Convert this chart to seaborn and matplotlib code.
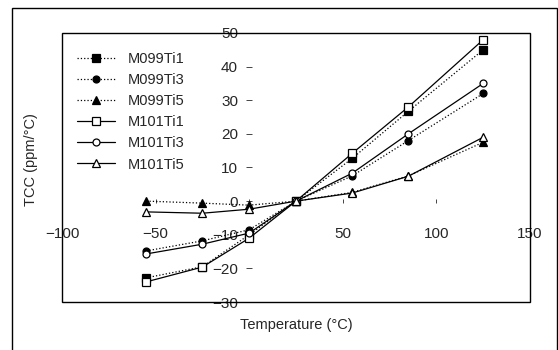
import pandas as pd
import seaborn as sns
import numpy as np
import matplotlib.pyplot as plt
from matplotlib.patches import Rectangle

# temperatures (deg C) and TCC readings (ppm/deg C)
temp = [-55, -25, 0, 25, 55, 85, 125]
m099ti1 = [-22.8, -19.5, -10.0, 0, 12.7, 26.7, 45.0]
m099ti3 = [-14.8, -11.8, -8.5, 0, 7.5, 18.0, 32.0]
m099ti5 = [0.0, -0.6, -1.2, 0, 2.6, 7.5, 17.5]
m101ti1 = [-24.0, -19.6, -11.0, 0, 14.2, 28.0, 48.0]
m101ti3 = [-15.7, -12.8, -9.5, 0, 8.3, 20.0, 35.0]
m101ti5 = [-3.2, -3.6, -2.4, 0, 2.4, 7.4, 19.0]

names = ['M099Ti1', 'M099Ti3', 'M099Ti5', 'M101Ti1', 'M101Ti3', 'M101Ti5']
values = [m099ti1, m099ti3, m099ti5, m101ti1, m101ti3, m101ti5]
markers = ['s', 'o', '^', 's', 'o', '^']
filled = [True, True, True, False, False, False]

sns.set_style('white')
plt.rcParams['font.family'] = ['Liberation Sans', 'DejaVu Sans']

fig = plt.figure(figsize=(5.58, 3.5), dpi=100)
ax = fig.add_axes([0.111, 0.137, 0.839, 0.769])

for name, vals, mk, fl in zip(names, values, markers, filled):
    df = pd.DataFrame({'Temperature': temp, 'TCC': vals})
    sns.lineplot(df, x='Temperature', y='TCC', ax=ax, label=name,
                 color='black', linewidth=0.9,
                 linestyle=':' if fl else '-',
                 marker=mk, markersize=5.5 if mk != 'o' else 5,
                 markerfacecolor='black' if fl else 'white',
                 markeredgecolor='black', markeredgewidth=0.9)

ax.set_xlim(-100, 150)
ax.set_ylim(-30, 50)
ax.set_xticks(np.arange(-100, 151, 50))
ax.set_yticks(np.arange(-30, 51, 10))
ax.set_xticklabels(['\u2212100', '\u221250', '', '50', '100', '150'])
ax.set_yticklabels(['\u221230', '\u221220', '\u221210', '0', '10', '20', '30', '40', '50'])

# axes cross at the origin; only the ticks are visible there
for side in ['left', 'bottom']:
    ax.spines[side].set_position(('data', 0))
    ax.spines[side].set_color('none')
for side in ['top', 'right']:
    ax.spines[side].set_visible(False)
ax.add_patch(Rectangle((0, 0), 1, 1, transform=ax.transAxes, fill=False,
                       edgecolor='black', linewidth=1.0, clip_on=False, zorder=5))

ax.tick_params(axis='y', direction='inout', length=4, width=0.6, pad=6,
               labelsize=11, left=True)
ax.tick_params(axis='x', direction='inout', length=3, width=0.6, pad=17,
               labelsize=11, bottom=True)

ax.set_xlabel('Temperature (\u00b0C)', fontsize=10.5)
ax.set_ylabel('TCC (ppm/\u00b0C)', fontsize=10.5)
ax.xaxis.set_label_coords(0.5, -0.06)
ax.yaxis.set_label_coords(-0.052, 0.53)

ax.legend(loc='upper left', bbox_to_anchor=(-0.008, 1.0), frameon=False,
          fontsize=10.5, handlelength=2.6, handletextpad=0.9,
          labelspacing=0.49, borderpad=1.3, borderaxespad=0.0)

# outer frame of the figure
fig.patches.append(Rectangle((12 / 558, -0.05), 545 / 558, 1 - 8 / 350 + 0.05,
                             transform=fig.transFigure, fill=False,
                             edgecolor='black', linewidth=1.0))

fig.savefig('out.png', dpi=100)
